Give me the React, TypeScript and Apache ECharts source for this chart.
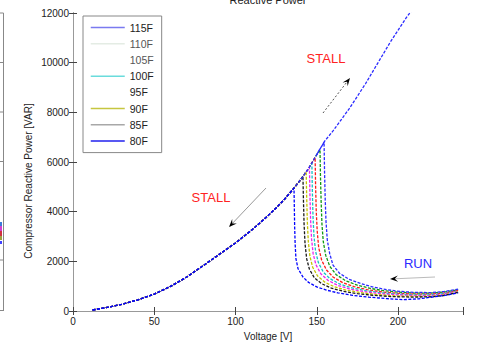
import React, { useEffect, useRef } from "react";
import * as echarts from "echarts";

// ---------- data ----------
const legendNames = ["115F", "110F", "105F", "100F", "95F", "90F", "85F", "80F"];
const seriesColors = ["#2b2bff", "#109a10", "#ff1a1a", "#12c4c4", "#ee22ee", "#c4c400", "#1a1a1a", "#0000ff"];
const legendIconColors = ["#7a7af0", "#e4ece4", "rgba(0,0,0,0)", "#6adcdc", "rgba(0,0,0,0)", "#c6c640", "#a8a8a8", "#2020ee"];

// common stall curve (voltage V, reactive power VAR)
const stallV = [12, 20, 30, 40, 50, 60, 70, 80, 90, 100, 110, 120, 125, 130, 135, 140, 145, 150, 155];
const stallQ = [40, 130, 270, 450, 680, 990, 1370, 1820, 2280, 2740, 3260, 3840, 4150, 4490, 4870, 5280, 5740, 6300, 6850];

// stall continuing while voltage ramps up
const upV = [150, 155, 160, 165, 170, 175, 180, 185, 190, 195, 200, 205, 210];
const upQ = [6300, 6850, 7250, 7700, 8150, 8650, 9150, 9700, 10250, 10800, 11300, 11800, 12250];

// run branches (from stall voltage to 237 V)
const run115V = [154.5, 154.8, 155.2, 155.7, 156.5, 158, 160, 164, 170, 177, 185, 193, 201, 210, 220, 228, 237];
const run115Q = [6800, 5600, 4500, 3600, 2850, 2300, 1850, 1520, 1270, 1110, 960, 860, 790, 750, 740, 780, 880];
const run110V = [152, 152.3, 152.7, 153.2, 154, 155.5, 158, 162, 168, 175, 183, 191, 200, 210, 220, 228, 237];
const run110Q = [6500, 5400, 4400, 3500, 2800, 2250, 1800, 1460, 1210, 1040, 910, 820, 760, 720, 720, 760, 860];
const run105V = [149, 149.3, 149.7, 150.3, 151.2, 153, 156, 160, 166, 173, 181, 190, 200, 210, 220, 228, 237];
const run105Q = [6180, 5000, 4000, 3200, 2550, 2050, 1650, 1370, 1140, 980, 860, 770, 710, 680, 680, 720, 830];
const run100V = [147, 147.3, 147.7, 148.3, 149.3, 151, 154, 158, 164, 171, 180, 190, 200, 210, 220, 228, 237];
const run100Q = [5950, 4800, 3800, 3000, 2400, 1950, 1570, 1310, 1090, 940, 820, 730, 680, 650, 650, 700, 810];
const run95V = [145.5, 145.8, 146.2, 146.8, 147.8, 149.5, 152.5, 157, 163, 170, 179, 189, 199, 210, 220, 228, 237];
const run95Q = [5790, 4700, 3700, 2900, 2300, 1860, 1500, 1230, 1030, 890, 780, 700, 650, 620, 620, 670, 790];
const run90V = [143.5, 143.8, 144.2, 144.8, 145.8, 147.5, 150.5, 155, 161, 168, 177, 187, 198, 209, 220, 228, 237];
const run90Q = [5600, 4600, 3600, 2800, 2200, 1760, 1410, 1160, 970, 840, 740, 660, 610, 590, 590, 640, 770];
const run85V = [141.5, 141.8, 142.2, 142.8, 143.8, 145.5, 148.5, 153, 159, 166, 175, 185, 196, 208, 220, 228, 237];
const run85Q = [5430, 4500, 3500, 2700, 2100, 1680, 1340, 1100, 920, 800, 700, 630, 580, 560, 570, 620, 750];
const run80V = [136, 136.2, 136.4, 136.7, 137.2, 138.5, 141.5, 145, 150, 156, 163, 172, 182, 193, 203, 213, 222, 230, 237];
const run80Q = [4950, 4200, 3400, 2700, 2100, 1700, 1370, 1150, 970, 840, 730, 630, 560, 500, 455, 490, 570, 640, 730];

const runV = [run115V, run110V, run105V, run100V, run95V, run90V, run85V, run80V];
const runQ = [run115Q, run110Q, run105Q, run100Q, run95Q, run90Q, run85Q, run80Q];

const xTicks = [0, 50, 100, 150, 200];

// ---------- helpers ----------
function arrow(x1: number, y1: number, x2: number, y2: number, lineColor: string, dash?: number[]) {
  const dx = x2 - x1;
  const dy = y2 - y1;
  const len = Math.sqrt(dx * dx + dy * dy);
  const ux = dx / len;
  const uy = dy / len;
  const hl = 8;
  const hw = 3.2;
  const bx = x2 - ux * hl;
  const by = y2 - uy * hl;
  const mx = x2 - ux * hl * 0.6;
  const my = y2 - uy * hl * 0.6;
  return [
    {
      type: "line",
      shape: { x1, y1, x2: mx, y2: my },
      style: { stroke: lineColor, lineWidth: 1, lineDash: dash || null },
    },
    {
      type: "polygon",
      shape: {
        points: [
          [x2, y2],
          [bx - uy * hw, by + ux * hw],
          [mx, my],
          [bx + uy * hw, by - ux * hw],
        ],
      },
      style: { fill: "#000" },
    },
  ];
}

export default function App() {
  const ref = useRef<HTMLDivElement>(null);

  useEffect(() => {
    if (!ref.current) return;
    const chart = echarts.init(ref.current, undefined, { renderer: "svg" });
    const font = "Liberation Sans, Arial, sans-serif";

    const series: any[] = legendNames.map((name, i) => {
      const vs = runV[i][0];
      const data: number[][] = [];
      stallV.forEach((v, k) => {
        if (v < vs) data.push([v, stallQ[k]]);
      });
      runV[i].forEach((v, k) => data.push([v, runQ[i][k]]));
      return {
        type: "line",
        name,
        data,
        symbol: "none",
        smooth: false,
        color: seriesColors[i],
        lineStyle: { color: seriesColors[i], width: 1.3, type: [3, 1.5] },
        z: 2 + (i === 0 || i === 7 ? 2 : 0),
      };
    });
    series.push({
      type: "line",
      name: "115F",
      data: upV.map((v, k) => [v, upQ[k]]),
      symbol: "none",
      color: seriesColors[0],
      lineStyle: { color: "#2b2bff", width: 1.3, type: [3, 1.5] },
      z: 5,
    });

    const axisCommon = {
      type: "value",
      axisLine: { show: true, lineStyle: { color: "#444", width: 1 } },
      axisTick: { show: true, inside: true, length: 4, lineStyle: { color: "#444" } },
      splitLine: { show: false },
    };

    const graphic: any[] = [
      {
        type: "text",
        x: 268,
        y: 0,
        style: { text: "Reactive Power", font: `11px ${font}`, fill: "#222", align: "center", verticalAlign: "middle" },
      },
      {
        type: "text",
        x: 28,
        y: 181,
        rotation: Math.PI / 2,
        style: {
          text: "Compressor Reactive Power [VAR]",
          font: `10px ${font}`,
          fill: "#222",
          align: "center",
          verticalAlign: "middle",
        },
      },
      {
        type: "text",
        x: 211,
        y: 197,
        style: { text: "STALL", font: `13px ${font}`, fill: "#ff2222", align: "center", verticalAlign: "middle" },
      },
      {
        type: "text",
        x: 326,
        y: 58,
        style: { text: "STALL", font: `13px ${font}`, fill: "#ff2222", align: "center", verticalAlign: "middle" },
      },
      {
        type: "text",
        x: 418,
        y: 263,
        style: { text: "RUN", font: `13px ${font}`, fill: "#2a2aff", align: "center", verticalAlign: "middle" },
      },
      ...arrow(266, 188, 229, 227, "#999"),
      ...arrow(323, 113, 350, 78, "#555", [2, 2]),
      ...arrow(435, 277, 390, 279, "#bbb"),
      // right edge of neighbouring plot
      { type: "line", shape: { x1: 3.5, y1: 13, x2: 3.5, y2: 311 }, style: { stroke: "#888", lineWidth: 1 } },
      ...[13, 62.5, 112, 161.5, 260, 310.5].map((y) => ({
        type: "line",
        shape: { x1: 0, y1: y, x2: 3.5, y2: y },
        style: { stroke: "#888", lineWidth: 1 },
      })),
      { type: "rect", shape: { x: 0, y: 222, width: 2, height: 4 }, style: { fill: "#3a7ad8" } },
      { type: "rect", shape: { x: 0, y: 226, width: 2, height: 5 }, style: { fill: "#d040d0" } },
      { type: "rect", shape: { x: 0, y: 231, width: 2, height: 5 }, style: { fill: "#d03040" } },
      { type: "rect", shape: { x: 0, y: 236, width: 2, height: 4 }, style: { fill: "#a0a040" } },
      { type: "rect", shape: { x: 0, y: 241, width: 2, height: 3 }, style: { fill: "#4040ff" } },
    ];

    chart.setOption({
      animation: false,
      backgroundColor: "#fff",
      grid: { left: 73, top: 13, right: 18, bottom: 36, containLabel: false },
      legend: {
        show: true,
        orient: "vertical",
        left: 83,
        top: 16,
        itemWidth: 34,
        itemHeight: 14,
        itemGap: 5,
        padding: [6, 8, 6, 7],
        backgroundColor: "#fff",
        borderColor: "#888",
        borderWidth: 1,
        borderRadius: 0,
        selectedMode: false,
        textStyle: { fontSize: 10.5, fontFamily: font, color: "#222", padding: [0, 0, 0, 0] },
        data: legendNames.map((n, i) => ({
          name: n,
          lineStyle: { color: legendIconColors[i], width: 1.5, type: "solid", opacity: 1 },
          itemStyle: { color: "rgba(0,0,0,0)", borderWidth: 0, opacity: 0 },
          textStyle: { color: i === 1 || i === 2 ? "#555" : "#222" },
        })),
      },
      xAxis: [
        {
          ...axisCommon,
          position: "bottom",
          min: 0,
          max: 240,
          interval: 50,
          axisLabel: {
            show: true,
            fontSize: 10,
            fontFamily: font,
            color: "#222",
            margin: 5,
            formatter: (v: number) => (xTicks.indexOf(v) >= 0 ? String(v) : ""),
          },
          name: "Voltage [V]",
          nameLocation: "middle",
          nameGap: 20,
          nameTextStyle: { fontSize: 10, fontFamily: font, color: "#222" },
        },
        {
          ...axisCommon,
          position: "top",
          min: 0,
          max: 240,
          interval: 50,
          axisLine: { show: true, lineStyle: { color: "#999", width: 1 } },
          axisLabel: { show: false },
        },
      ],
      yAxis: [
        {
          ...axisCommon,
          position: "left",
          min: 0,
          max: 12000,
          interval: 2000,
          axisLabel: {
            show: true,
            fontSize: 10,
            fontFamily: font,
            color: "#222",
            margin: 4,
            formatter: (v: number) => String(v),
          },
        },
        {
          ...axisCommon,
          position: "right",
          min: 0,
          max: 12000,
          interval: 2000,
          axisLine: { show: true, lineStyle: { color: "#999", width: 1 } },
          axisLabel: { show: false },
        },
      ],
      series,
      graphic,
    });

    return () => chart.dispose();
  }, []);

  return (
    <div
      ref={ref}
      style={{ position: "fixed", left: 0, top: 0, width: 481, height: 347, background: "#fff" }}
    />
  );
}
